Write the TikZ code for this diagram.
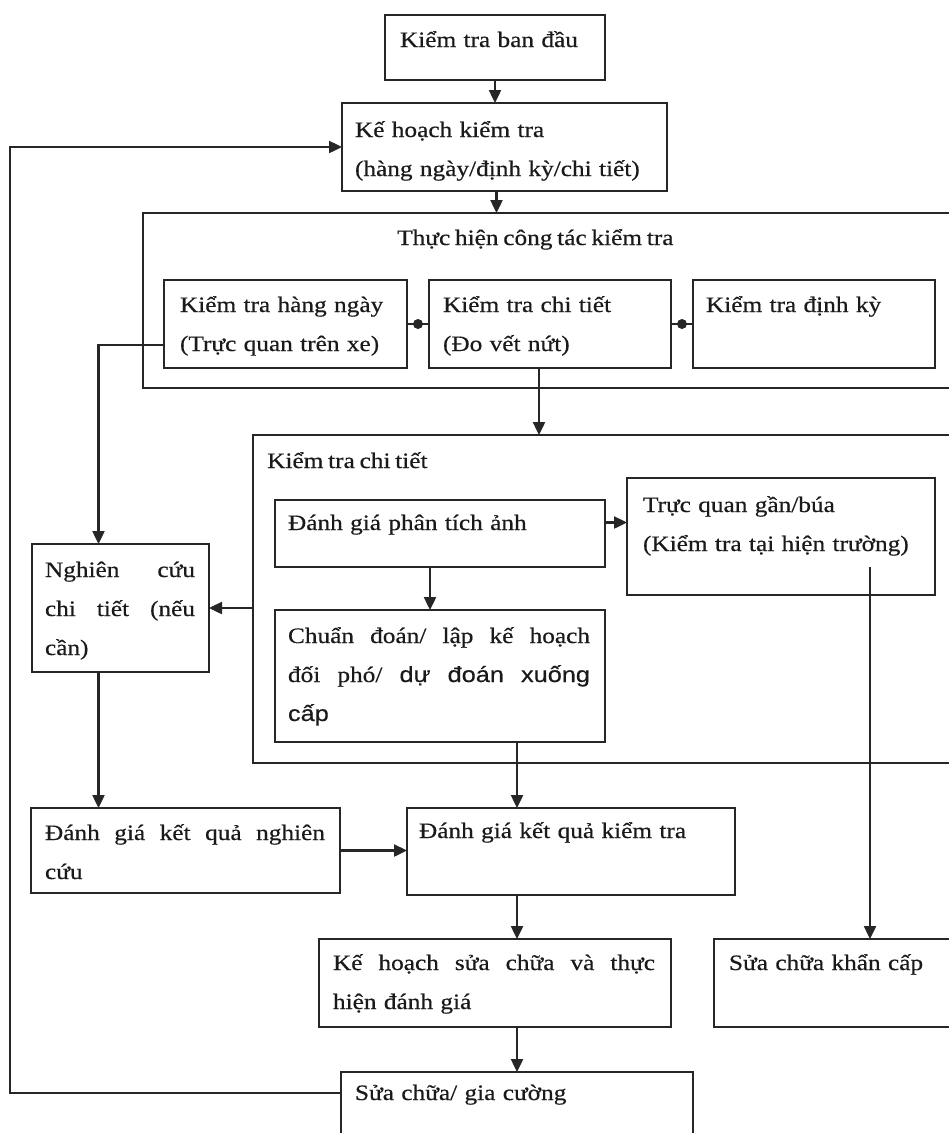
\documentclass[tikz,border=0pt]{standalone}
\usepackage{fontspec}
\setmainfont[FakeStretch=1.15, FakeBold=0.5, WordSpace=0.75]{Liberation Serif}
\newfontfamily\sansish[FakeStretch=1.15, FakeBold=0.5]{Liberation Sans}
\usetikzlibrary{arrows.meta}

\definecolor{inkline}{HTML}{262626}
\definecolor{inktext}{HTML}{1A1A1A}

\tikzset{
  ln/.style={line width=2.4pt, draw=inkline},
  box/.style={ln, rectangle, anchor=north west, inner ysep=0pt, outer sep=0pt,
              align=left, text=inktext},
  frame/.style={ln, rectangle, anchor=north west, inner sep=0pt, outer sep=0pt},
  ttl/.style={anchor=base west, inner sep=0pt, text=inktext},
  arr/.style={ln, -{Triangle[length=13pt,width=12pt]}},
  dotmark/.style={circle, fill=inkline, inner sep=0pt, minimum size=10pt},
}

% a justified line: the words are spread over the given width
\newcommand\jline[2]{\makebox[#1][l]{#2}}

\begin{document}
\begin{tikzpicture}[x=1pt, y=-1pt, font=\fontsize{22}{39}\selectfont]
\useasboundingbox (0,0) rectangle (949,1133);
\clip (0,0) rectangle (949,1133);

% top of the flow
\node[box, text width=190pt, inner xsep=15pt, text height=32pt, text depth=33pt] (A) at (385,15) {Kiểm tra ban đầu};
\node[box, text width=299pt, inner xsep=13pt, text height=34pt, text depth=54pt] (B) at (342,103)
  {Kế hoạch kiểm tra\\(hàng ngày/định kỳ/chi tiết)};

% group: carrying out the inspection
\node[frame, minimum width=832pt, minimum height=175pt] (C) at (143,213) {};
\node[ttl] (Ct) at (397,245) {Thực hiện công tác kiểm tra};
\node[box, text width=211pt, inner xsep=16pt, text height=32pt, text depth=56pt] (C1) at (164,280)
  {Kiểm tra hàng ngày\\(Trực quan trên xe)};
\node[box, text width=214pt, inner xsep=14pt, text height=32pt, text depth=56pt] (C2) at (429,280)
  {Kiểm tra chi tiết\\(Đo vết nứt)};
\node[box, text width=216pt, inner xsep=13pt, text height=32pt, text depth=56pt] (C3) at (693,280)
  {Kiểm tra định kỳ};

% group: detailed inspection
\node[frame, minimum width=722pt, minimum height=328pt] (D) at (253,435) {};
\node[ttl] (Dt) at (267,468) {Kiểm tra chi tiết};
\node[box, text width=304pt, inner xsep=13pt, text height=30pt, text depth=37pt] (D1) at (275,500)
  {Đánh giá phân tích ảnh};
\node[box, text width=276pt, inner xsep=16pt, text height=34pt, text depth=83pt] (D2) at (627,478)
  {Trực quan gần/búa\\(Kiểm tra tại hiện trường)};
\node[box, text width=304pt, inner xsep=13pt, text height=33pt, text depth=99pt] (D3) at (275,610)
  {\jline{302pt}{Chuẩn\hfill đoán/\hfill lập\hfill kế\hfill hoạch}\\
   \jline{302pt}{đối\hfill phó/\hfill {\sansish dự\hfill đoán\hfill xuống}}\\
   {\sansish cấp}};

% left branch
\node[box, text width=151pt, inner xsep=13pt, text height=33pt, text depth=95pt] (E) at (32,544)
  {\jline{150pt}{Nghiên\hfill cứu}\\\jline{150pt}{chi\hfill tiết\hfill (nếu}\\cần)};
\node[box, text width=281pt, inner xsep=14pt, text height=32pt, text depth=53pt] (F) at (31,808)
  {\jline{280pt}{Đánh\hfill giá\hfill kết\hfill quả\hfill nghiên}\\cứu};

% evaluation and repair
\node[box, text width=304pt, inner xsep=12pt, text height=30pt, text depth=57pt] (G) at (407,808)
  {Đánh giá kết quả kiểm tra};
\node[box, text width=324pt, inner xsep=14pt, text height=31pt, text depth=57pt] (H) at (319,939)
  {\jline{322pt}{Kế\hfill hoạch\hfill sửa\hfill chữa\hfill và\hfill thực}\\hiện đánh giá};
\node[box, text width=216pt, inner xsep=15pt, text height=31pt, text depth=57pt] (I) at (714,939)
  {Sửa chữa khẩn cấp};
\node[box, text width=324pt, inner xsep=14pt, text height=28pt, text depth=50pt] (J) at (341,1072)
  {Sửa chữa/ gia cường};

% connectors
\draw[arr] (A.south) -- (A.south |- B.north);
\draw[arr] ([xshift=-8pt]B.south) -- ([xshift=-8pt]B.south |- C.north);
\draw[ln] (C1.east) -- node[dotmark]{} (C2.west);
\draw[ln] (C2.east) -- node[dotmark]{} (C3.west);
\draw[arr] ([yshift=-21pt]C1.west) -| ([xshift=-22pt]E.north);
\draw[arr] ([xshift=-11pt]C2.south) -- ([xshift=-11pt]C2.south |- D.north);
\draw[arr] (D.west |- E.east) -- (E.east);
\draw[arr] ([yshift=11pt]D1.east) -- ([yshift=11pt]D1.east -| D2.west);
\draw[arr] ([xshift=-10pt]D1.south) -- ([xshift=-10pt]D1.south |- D3.north);
\draw[arr] ([xshift=89pt,yshift=28pt]D2.south) -- ([xshift=89pt]D2.south |- I.north);
\draw[arr] ([xshift=77pt]D3.south) -- ([xshift=77pt]D3.south |- G.north);
\draw[arr] ([xshift=-22pt]E.south) -- ([xshift=-22pt]E.south |- F.north);
\draw[arr] (F.east) -- (F.east -| G.west);
\draw[arr] ([xshift=-54pt]G.south) -- ([xshift=-54pt]G.south |- H.north);
\draw[arr] ([xshift=22pt]H.south) -- ([xshift=22pt]H.south |- J.north);
\coordinate (lc) at (10,0);
\draw[arr] ([yshift=-21pt]J.north west) -| (lc |- B.west) -- (B.west);
\end{tikzpicture}
\end{document}
